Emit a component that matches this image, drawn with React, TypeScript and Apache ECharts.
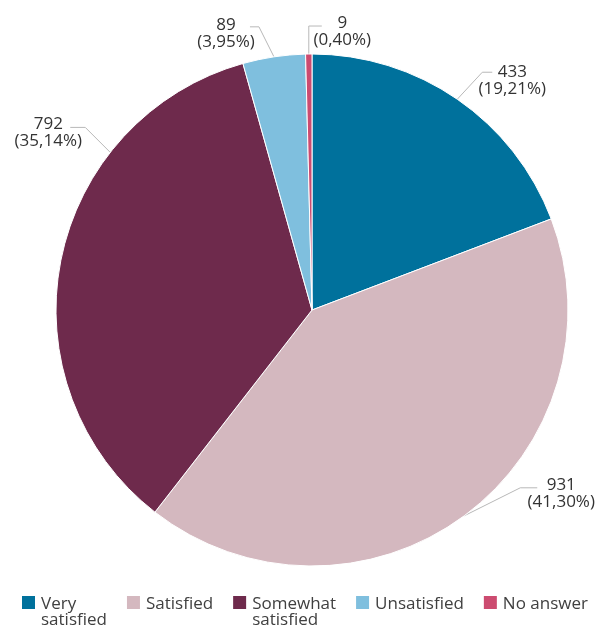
import React, { useEffect, useRef } from 'react';
import * as echarts from 'echarts';

// ---- data ----
const categories = ['Very satisfied', 'Satisfied', 'Somewhat satisfied', 'Unsatisfied', 'No answer'];
const values = [433, 931, 792, 89, 9];
const legendLines = [['Very', 'satisfied'], ['Satisfied'], ['Somewhat', 'satisfied'], ['Unsatisfied'], ['No answer']];

// ---- style ----
const colors = ['#00719c', '#d4b8bf', '#6e2a4c', '#7fbfde', '#cc4b70'];
const FONT = '"Open Sans", sans-serif';
const CX = 312;
const CY = 310;
const R = 256;
const LABEL_LH = 17;
// label leader-line layout (offsets in px, relative to anchor on the pie edge)
const anchorAngles: (number | null)[] = [null, null, 142, null, null];
const bendOffsets = [[25, -27], [56, -28], [-25, -25], [-15, -30], [0, -28]];
const tailLengths = [10, 17, -15, -9, 13];
const textOffsets = [[20, -2], [24, -4], [-22, -4.5], [-24, -3], [20.5, -4.5]];

const total = values.reduce((a, b) => a + b, 0);

export default function App() {
  const ref = useRef<HTMLDivElement>(null);
  useEffect(() => {
    if (!ref.current) return;
    const chart = echarts.init(ref.current, null, { renderer: 'svg' });
    chart.setOption({
      animation: false,
      color: colors,
      legend: {
        data: categories,
        left: 15,
        top: 573,
        icon: 'rect',
        itemWidth: 15,
        itemHeight: 15,
        itemGap: 18,
        selectedMode: false,
        formatter: (name: string) => {
          const lines = legendLines[categories.indexOf(name)];
          if (lines.length > 1) return '{sp| }\n' + lines.map((l) => '{t|' + l + '}').join('\n');
          return '{t|' + lines[0] + '}';
        },
        textStyle: {
          fontFamily: FONT,
          fontSize: 17,
          color: '#404040',
          rich: {
            t: { fontFamily: FONT, fontSize: 17, lineHeight: 16, color: '#404040' },
            sp: { fontFamily: FONT, fontSize: 17, lineHeight: 16 },
          },
        },
      },
      series: [
        {
          type: 'pie',
          center: [CX, CY],
          radius: R,
          startAngle: 90,
          clockwise: true,
          avoidLabelOverlap: false,
          itemStyle: { borderColor: '#ffffff', borderWidth: 1 },
          label: {
            show: true,
            position: 'outside',
            fontFamily: FONT,
            fontSize: 17,
            lineHeight: LABEL_LH,
            color: '#333333',
            formatter: (p: any) =>
              p.value + '\n(' + ((p.value / total) * 100).toFixed(2).replace('.', ',') + '%)',
          },
          labelLine: { show: true, length: 30, length2: 10, lineStyle: { color: '#b8b8b8', width: 1 } },
          labelLayout: (params: any) => {
            const i = params.dataIndex;
            let p0: number[] = params.labelLinePoints ? params.labelLinePoints[0] : [CX, CY - R];
            const ang = anchorAngles[i];
            if (ang != null) {
              const a = (ang * Math.PI) / 180;
              p0 = [CX + R * Math.cos(a), CY - R * Math.sin(a)];
            }
            const p1 = [p0[0] + bendOffsets[i][0], p0[1] + bendOffsets[i][1]];
            const p2 = [p1[0] + tailLengths[i], p1[1]];
            return {
              x: p2[0] + textOffsets[i][0],
              y: p2[1] + textOffsets[i][1] - LABEL_LH / 2,
              align: 'center',
              verticalAlign: 'top',
              labelLinePoints: [p0, p1, p2],
            };
          },
          data: categories.map((name, i) => ({ name, value: values[i] })),
        },
      ],
    });
    return () => chart.dispose();
  }, []);
  return <div ref={ref} style={{ position: 'fixed', left: 0, top: 0, width: 599, height: 628 }} />;
}
